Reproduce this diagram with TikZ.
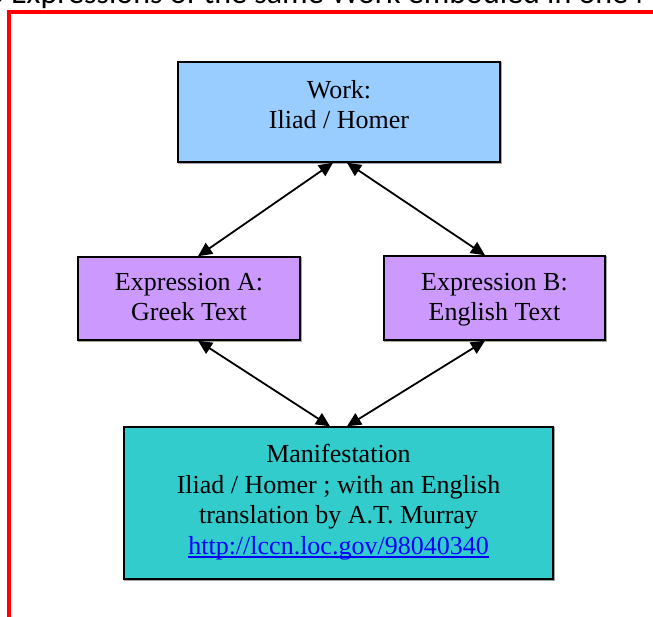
\documentclass[tikz,border=0pt]{standalone}
\usepackage{fontspec}
\setmainfont{Liberation Serif}
\newfontfamily\hdrfont{Carlito}
\usetikzlibrary{arrows.meta,calc}
\definecolor{workblue}{HTML}{99CCFF}
\definecolor{exppurple}{HTML}{CC99FF}
\definecolor{mantea}{HTML}{33CCCC}
\definecolor{linkblue}{HTML}{0000FF}
\newcommand\linkul[1]{\setbox0\hbox{#1}\rlap{\rule[-3.5pt]{\wd0}{1.2pt}}\box0}
\begin{document}
\begin{tikzpicture}[x=1pt,y=-1pt,
  box/.style={draw=black,line width=1.5pt,inner sep=0pt,
    preaction={draw=black!35,line width=1.5pt,transform canvas={shift={(0.8pt,-1.2pt)}}}},
  lbl/.style={inner sep=0pt,align=center,anchor=north,font=\fontsize{26}{30.5}\selectfont},
  bi/.style={{Triangle[length=14pt,width=13pt]}-{Triangle[length=14pt,width=13pt]},line width=1.8pt}]
\useasboundingbox (0,0) rectangle (653,617);
\begin{scope}
\clip (0,0) rectangle (653,617);
\node[inner sep=0pt,anchor=base west,font=\hdrfont\fontsize{32}{36}\selectfont] (title) at (-50,3.5)
  {Two Expressions of the same Work embodied in one Manifestation};
\draw[red,line width=4pt] (9,640) -- (9,12) -- (680,12);
\end{scope}
% boxes
\node[box,fill=workblue,minimum width=322pt,minimum height=100pt] (work) at (339,112) {};
\node[box,fill=exppurple,minimum width=222pt,minimum height=83pt] (expA) at (189,298.5) {};
\node[box,fill=exppurple,minimum width=221pt,minimum height=84pt] (expB) at (494.5,298) {};
\node[box,fill=mantea,minimum width=429pt,minimum height=152pt] (man) at (338.5,503) {};
% labels
\node[lbl] (worktxt) at (339,78.3) {\rule{0pt}{20pt}Work:\\Iliad / Homer};
\node[lbl] (expAtxt) at (189,270) {\rule{0pt}{20pt}Expression A:\\Greek Text};
\node[lbl] (expBtxt) at (494.5,270) {\rule{0pt}{20pt}Expression B:\\English Text};
\node[lbl] (mantxt) at (338.5,442.3) {\rule{0pt}{20pt}Manifestation\\Iliad / Homer ; with an English\\translation by A.T. Murray\\{\color{linkblue}\linkul{http://lccn.loc.gov/98040340}}};
% connectors
\draw[bi] ([xshift=-6pt]work.south) -- ([xshift=9pt]expA.north);
\draw[bi] ([xshift=8pt]work.south) -- ([xshift=-9.5pt]expB.north);
\draw[bi] ([xshift=9pt]expA.south) -- ([xshift=-8.5pt]man.north);
\draw[bi] ([xshift=-9.5pt]expB.south) -- ([xshift=8.5pt]man.north);
\end{tikzpicture}
\end{document}
